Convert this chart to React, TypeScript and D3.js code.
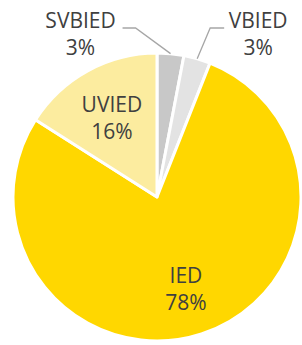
import { useEffect, useRef } from 'react'
import * as d3 from 'd3'

const categories = ['SVBIED', 'VBIED', 'IED', 'UVIED']
const values = [3, 3, 78, 16]
const colors = ['#c8c8c8', '#e3e3e3', '#ffd700', '#fcec9f']
const outside = [true, true, false, false]

export default function App() {
  const ref = useRef<SVGSVGElement | null>(null)

  useEffect(() => {
    if (!ref.current) return
    const width = 302
    const height = 345
    const cx = 157
    const cy = 197
    const r = 144

    const svg = d3.select(ref.current)
    svg.selectAll('*').remove()

    const data = categories.map((name, i) => ({ name, value: values[i], color: colors[i], outside: outside[i] }))

    const pie = d3.pie<any>().sort(null).value((d) => d.value)
    const arcs = pie(data)
    const arc = d3.arc<any>().innerRadius(0).outerRadius(r)
    const labelArc = d3.arc<any>().innerRadius(r * 0.65).outerRadius(r * 0.65)
    const edgeArc = d3.arc<any>().innerRadius(r).outerRadius(r)

    const g = svg.append('g').attr('transform', `translate(${cx},${cy})`)

    g.selectAll('path.slice')
      .data(arcs)
      .join('path')
      .attr('class', 'slice')
      .attr('d', arc)
      .attr('fill', (d) => d.data.color)
      .attr('stroke', '#fff')
      .attr('stroke-width', 3)
      .attr('stroke-linejoin', 'round')

    const font = "'Open Sans', sans-serif"
    const fs = 21

    // inner labels
    const inner = arcs.filter((d) => !d.data.outside)
    const it = g
      .selectAll('text.inner')
      .data(inner)
      .join('text')
      .attr('class', 'inner')
      .attr('text-anchor', 'middle')
      .attr('font-family', font)
      .attr('font-size', fs)
      .attr('fill', '#404040')
      .attr('transform', (d) => {
        const [x, y] = labelArc.centroid(d)
        return `translate(${x},${y})`
      })
    it.append('tspan').attr('x', 0).attr('dy', -3).text((d) => d.data.name)
    it.append('tspan').attr('x', 0).attr('dy', 27).text((d) => d.data.value + '%')

    // outside labels with leader lines
    const outer = arcs.filter((d) => d.data.outside)
    outer.forEach((d) => {
      const [ex, ey] = edgeArc.centroid(d)
      const left = d.data.name === 'SVBIED'
      const elbowY = -r - 25
      const elbowX = left ? ex - 35 : ex + 13
      const endX = left ? elbowX - 13 : elbowX + 14
      g.append('polyline')
        .attr('points', `${ex},${ey} ${elbowX},${elbowY} ${endX},${elbowY}`)
        .attr('fill', 'none')
        .attr('stroke', '#a6a6a6')
        .attr('stroke-width', 1.3)
      const tx = left ? endX - 42 : endX + 34
      const t = g
        .append('text')
        .attr('text-anchor', 'middle')
        .attr('font-family', font)
        .attr('font-size', fs)
        .attr('fill', '#404040')
        .attr('transform', `translate(${tx},${elbowY})`)
      t.append('tspan').attr('x', 0).attr('dy', 0).text(d.data.name)
      t.append('tspan').attr('x', 0).attr('dy', 27).text(d.data.value + '%')
    })

    svg.attr('width', width).attr('height', height)
  }, [])

  return (
    <div style={{ position: 'absolute', left: 0, top: 0, background: '#fff' }}>
      <svg ref={ref} width={302} height={345} style={{ display: 'block' }} />
    </div>
  )
}
